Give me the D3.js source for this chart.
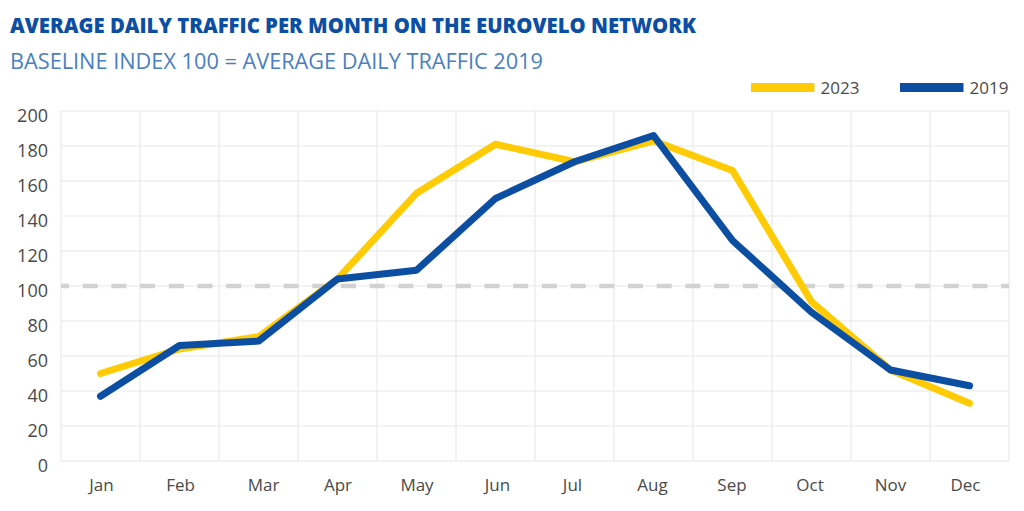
<!DOCTYPE html>
<html><head><meta charset="utf-8">
<script src="https://cdn.jsdelivr.net/npm/d3@7"></script>
<style>html,body{margin:0;padding:0;background:#fff;overflow:hidden}svg{display:block}text{font-family:"Open Sans",sans-serif}</style>
</head><body><svg id="c" width="1024" height="511"></svg>
<script>
const months = ["Jan","Feb","Mar","Apr","May","Jun","Jul","Aug","Sep","Oct","Nov","Dec"];
const values2023 = [50,64,71,104,153,181,171,183,166,91,52,33];
const values2019 = [37,66,68.5,104,109,150,171,186,126,85,52,43];
const yTicks = [0,20,40,60,80,100,120,140,160,180,200];
const titleText = "AVERAGE DAILY TRAFFIC PER MONTH ON THE EUROVELO NETWORK";
const subtitleText = "BASELINE INDEX 100 = AVERAGE DAILY TRAFFIC 2019";
const baseline = 100;
const legendItems = [{name:"2023",color:"#ffcb05",x:751},{name:"2019",color:"#0b4ea2",x:900}];
const monthLabelNudge = [1,1,5,0.5,0.5,2,-2,-1,-0.5,-1.5,0,-4];

const svg = d3.select("#c");
const x = d3.scaleBand().domain(months).range([61,1009]);
const y = d3.scaleLinear().domain([0,200]).range([461,111]);
const grid = "#e8e8e8", txt = "#4a4a4a";

const g = svg.append("g");
g.selectAll(".h").data(yTicks).join("line").attr("x1",61).attr("x2",1009)
 .attr("y1",d=>y(d)).attr("y2",d=>y(d)).attr("stroke",grid).attr("stroke-width",1.1);
g.selectAll(".v").data([...months.map(m=>x(m)),1009]).join("line").attr("y1",111).attr("y2",461)
 .attr("x1",d=>d).attr("x2",d=>d).attr("stroke",grid).attr("stroke-width",1.1);

g.append("line").attr("x1",61).attr("x2",1009).attr("y1",y(baseline)).attr("y2",y(baseline))
 .attr("stroke","#d2d2d2").attr("stroke-width",4.5).attr("stroke-dasharray","15 13.7").attr("stroke-dashoffset",7);

const yAxis = d3.axisLeft(y).tickValues(yTicks).tickSize(0).tickPadding(0);
const ya = svg.append("g").attr("transform","translate(48,5)").call(yAxis);
ya.select(".domain").remove();
ya.selectAll("text").attr("font-size",18).attr("fill",txt).style("font-family",'"Open Sans",sans-serif');

const xAxis = d3.axisBottom(x).tickSize(0).tickPadding(0);
const xa = svg.append("g").attr("transform","translate(0,479)").call(xAxis);
xa.select(".domain").remove();
xa.selectAll("text").attr("font-size",17).attr("fill",txt).attr("dx",(d,i)=>monthLabelNudge[i]).style("font-family",'"Open Sans",sans-serif');

const line = d3.line().x((d,i)=>x(months[i])+x.bandwidth()/2).y(d=>y(d));
[[values2023,legendItems[0].color],[values2019,legendItems[1].color]].forEach(([v,c])=>{
  svg.append("path").attr("d",line(v)).attr("fill","none").attr("stroke",c)
   .attr("stroke-width",7).attr("stroke-linejoin","round").attr("stroke-linecap","round");
});

const lg = svg.selectAll(".lg").data(legendItems).join("g");
lg.append("rect").attr("x",d=>d.x).attr("y",83).attr("width",63.5).attr("height",9).attr("fill",d=>d.color);
lg.append("text").attr("x",d=>d.x+69.5).attr("y",94).attr("font-size",17).attr("fill",txt).text(d=>d.name);

svg.append("text").attr("x",10).attr("y",33).attr("font-size",21).attr("font-weight",800)
 .attr("fill","#0b4ea2").attr("textLength",686).attr("lengthAdjust","spacingAndGlyphs").text(titleText);
svg.append("text").attr("x",10).attr("y",69).attr("font-size",21).attr("fill","#4a7fc1")
 .attr("textLength",533).attr("lengthAdjust","spacingAndGlyphs").text(subtitleText);
</script></body></html>
